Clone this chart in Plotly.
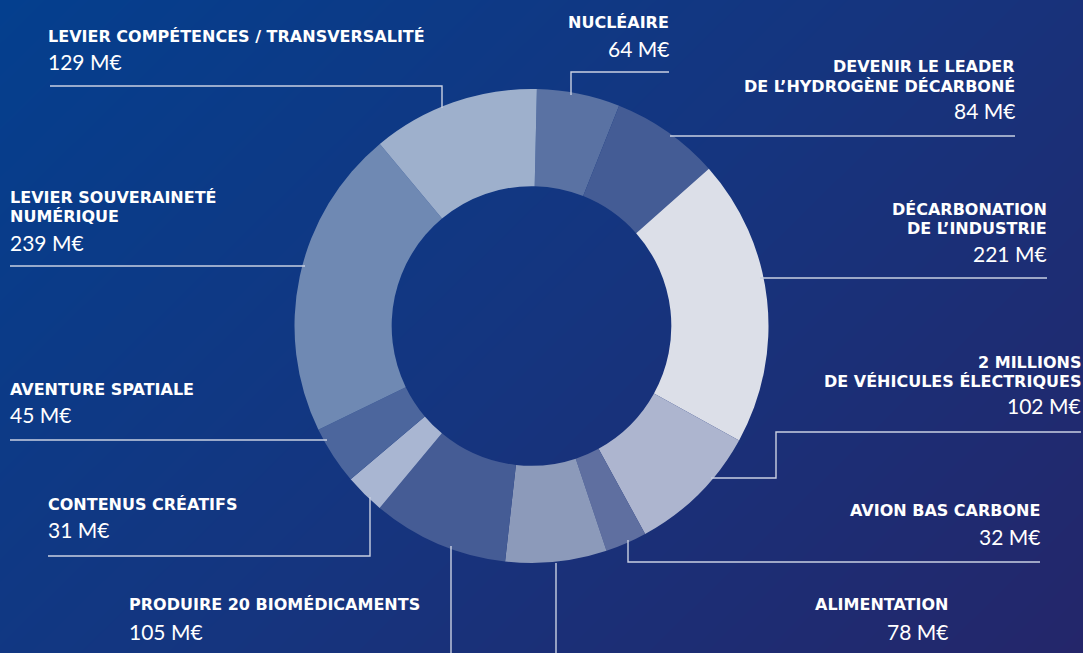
import plotly.graph_objects as go

W, H = 1083, 653

# ---- data ----
categories = [
    "NUCLÉAIRE",
    "DEVENIR LE LEADER DE L’HYDROGÈNE DÉCARBONÉ",
    "DÉCARBONATION DE L’INDUSTRIE",
    "2 MILLIONS DE VÉHICULES ÉLECTRIQUES",
    "AVION BAS CARBONE",
    "ALIMENTATION",
    "PRODUIRE 20 BIOMÉDICAMENTS",
    "CONTENUS CRÉATIFS",
    "AVENTURE SPATIALE",
    "LEVIER SOUVERAINETÉ NUMÉRIQUE",
    "LEVIER COMPÉTENCES / TRANSVERSALITÉ",
]
values_meur = [64, 84, 221, 102, 32, 78, 105, 31, 45, 239, 129]
slice_colors = ["#5a72a3", "#445c95", "#dcdfe8", "#adb5cf", "#5f6fa0", "#8c9aba",
                "#455c95", "#a9b6d2", "#4c669d", "#6f89b3", "#9eb0cc"]

# label layout: (title lines, x, anchor, y of title lines, y of value)
label_layout = [
    (["NUCLÉAIRE"], 669, "right", [22], 48),
    (["DEVENIR LE LEADER", "DE L’HYDROGÈNE DÉCARBONÉ"], 1015, "right", [66, 86], 110),
    (["DÉCARBONATION", "DE L’INDUSTRIE"], 1047, "right", [209, 228], 253),
    (["2 MILLIONS", "DE VÉHICULES ÉLECTRIQUES"], 1081, "right", [362, 381], 405),
    (["AVION BAS CARBONE"], 1040, "right", [510], 536),
    (["ALIMENTATION"], 948, "right", [604], 631),
    (["PRODUIRE 20 BIOMÉDICAMENTS"], 129, "left", [604], 631),
    (["CONTENUS CRÉATIFS"], 48, "left", [504], 529),
    (["AVENTURE SPATIALE"], 10, "left", [389], 414),
    (["LEVIER SOUVERAINETÉ", "NUMÉRIQUE"], 10, "left", [197, 216], 242),
    (["LEVIER COMPÉTENCES / TRANSVERSALITÉ"], 48, "left", [36], 61),
]

# leader line paths (pixel coords)
leader_paths = [
    [(669, 72), (571, 72), (571, 95)],
    [(1015, 136), (670, 136)],
    [(1047, 278), (760, 278)],
    [(1081, 432), (776, 432), (776, 478), (711, 478)],
    [(1040, 562), (628, 562), (628, 540)],
    [(556, 653), (556, 563)],
    [(451, 653), (451, 546)],
    [(48, 556), (370, 556), (370, 497)],
    [(10, 440), (327, 440)],
    [(10, 266), (305, 266)],
    [(50, 86), (442, 86), (442, 108)],
]

fig = go.Figure()

# background gradient
fig.add_trace(go.Heatmap(
    x=[0, W], y=[0, H],
    z=[[0.0, 0.62], [0.38, 1.0]],
    colorscale=[[0, "#043f8e"], [0.5, "#15357f"], [1, "#24266a"]],
    zsmooth="best", showscale=False, hoverinfo="skip",
    xaxis="x", yaxis="y",
))

cx, cy, r = 531.5, 326, 237
fig.add_trace(go.Pie(
    labels=categories, values=values_meur,
    marker=dict(colors=slice_colors, line=dict(width=0)),
    hole=0.59, sort=False, direction="clockwise", rotation=1.3,
    textinfo="none", showlegend=False, hoverinfo="label+value",
    domain=dict(x=[(cx - r) / W, (cx + r) / W], y=[1 - (cy + r) / H, 1 - (cy - r) / H]),
))

shapes = []
for path in leader_paths:
    d = "M " + " L ".join(f"{x},{y}" for x, y in path)
    shapes.append(dict(type="path", path=d, xref="x", yref="y",
                       line=dict(color="#c9d0e2", width=1.4), layer="above"))

annotations = []
for (lines, x, anchor, ys, yv), v in zip(label_layout, values_meur):
    dx = -2 if anchor == "left" else 2
    for t, y in zip(lines, ys):
        annotations.append(dict(x=x + dx, y=y, xref="x", yref="y", text=f"<b>{t}</b>",
                                showarrow=False, xanchor=anchor, yanchor="middle",
                                font=dict(family="DejaVu Sans", size=16, color="white")))
    annotations.append(dict(x=x + dx, y=yv, xref="x", yref="y", text=f"{v} M€",
                            showarrow=False, xanchor=anchor, yanchor="middle",
                            font=dict(family="Lato", size=21, color="white")))

fig.update_layout(
    width=W, height=H,
    margin=dict(l=0, r=0, t=0, b=0),
    paper_bgcolor="#15357f", plot_bgcolor="#15357f",
    xaxis=dict(range=[0, W], domain=[0, 1], visible=False, fixedrange=True),
    yaxis=dict(range=[H, 0], domain=[0, 1], visible=False, fixedrange=True),
    shapes=shapes, annotations=annotations,
)

fig.write_html("out.html")
